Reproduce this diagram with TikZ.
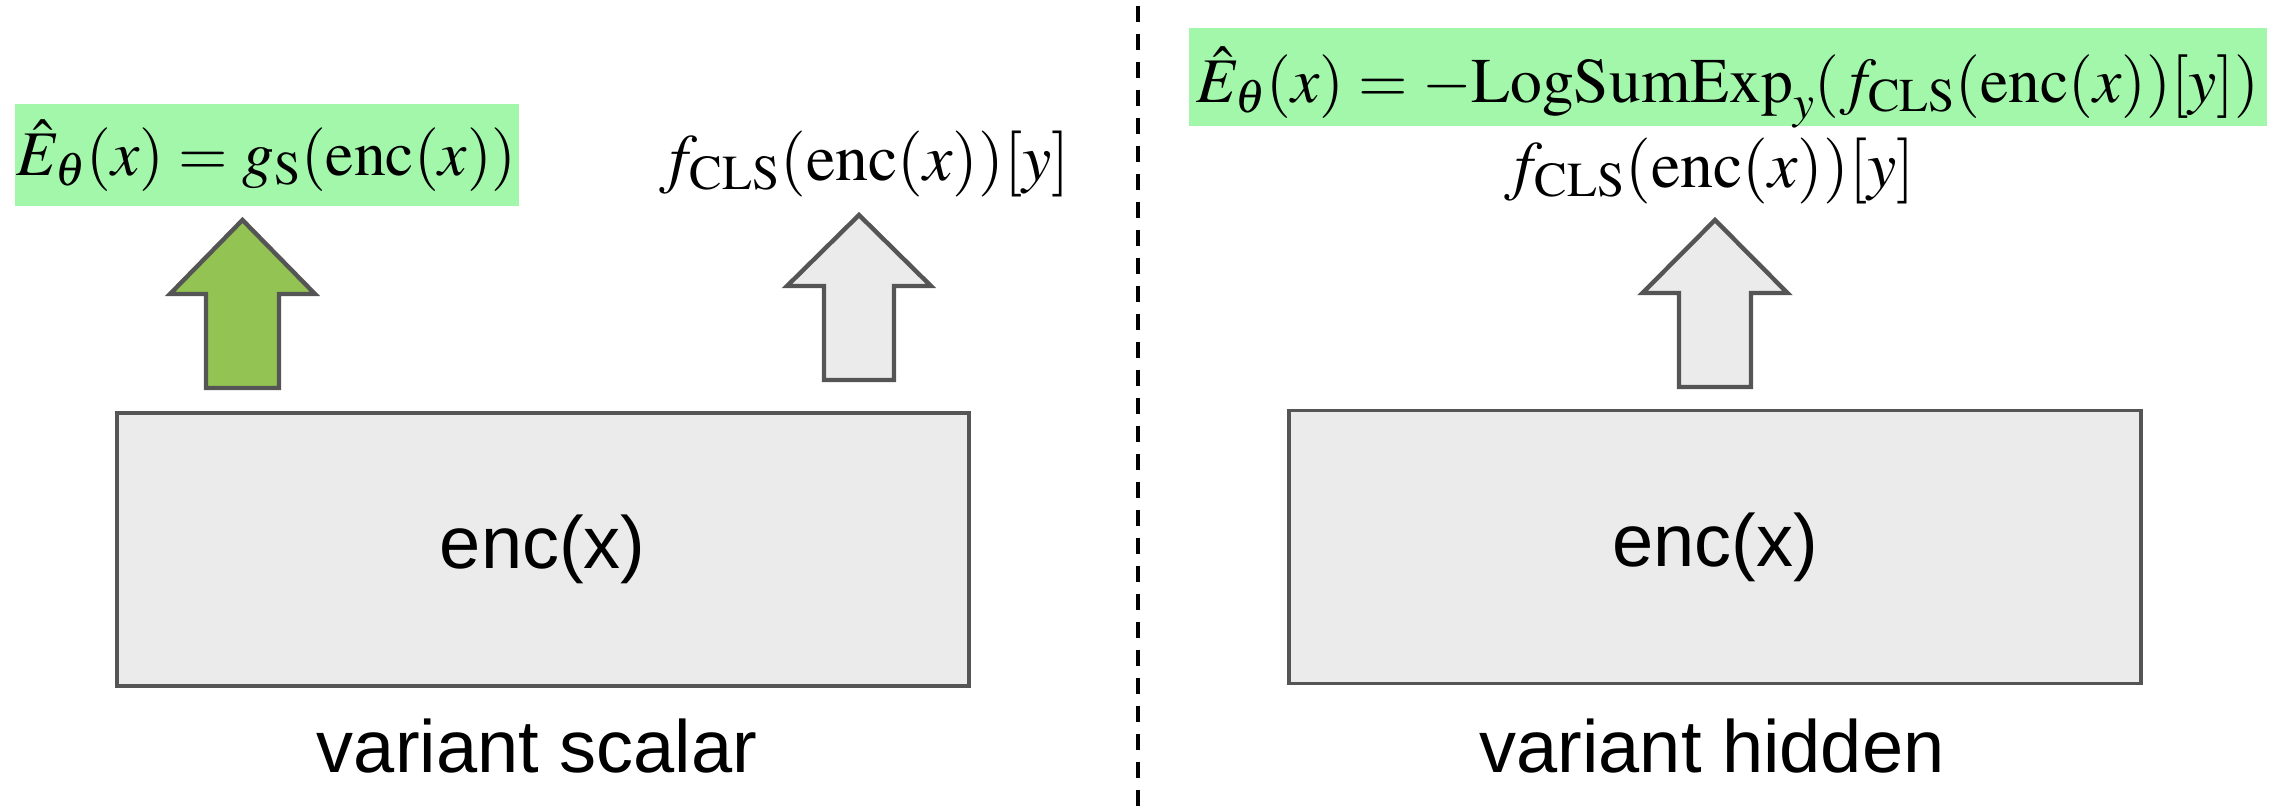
\documentclass[tikz,border=0pt]{standalone}
\usepackage{mathptmx}
\usepackage[no-math]{fontspec}
\newfontfamily\arialfont{Liberation Sans}
\definecolor{hlgreen}{HTML}{A3F7AB}
\definecolor{argreen}{HTML}{93C353}
\definecolor{boxgray}{HTML}{EBEBEC}
\definecolor{edgegray}{HTML}{555555}
\tikzset{
  encbox/.style={draw=edgegray, line width=1.75pt, fill=boxgray, minimum width=426pt, minimum height=136.5pt, font=\arialfont\fontsize{37}{44}\selectfont},
  caption/.style={anchor=base, font=\arialfont\fontsize{37}{44}\selectfont},
  mathlbl/.style={anchor=base, inner sep=0pt, font=\fontsize{33}{40}\selectfont},
  hlbox/.style={fill=hlgreen, inner xsep=0pt, inner ysep=0pt, anchor=base, font=\fontsize{31.8}{38}\selectfont},
  blockarrow/.style={draw=edgegray, line width=2.2pt, line join=miter},
  divider/.style={line width=2pt, dash pattern=on 8pt off 6pt}
}
\begin{document}
\begin{tikzpicture}[x=0.5pt,y=-0.5pt]
\useasboundingbox (0,0) rectangle (2284,810);
% divider
\coordinate (dtop) at (1138,6);
\coordinate (dbot) at (1138,810);
\draw[divider] (dtop) -- (dbot);
% encoder boxes
\node[encbox] (encL) at (542.75,549.5) {enc(x)};
\node[encbox] (encR) at (1715,547) {enc(x)};
% captions
\node[caption] (capL) at (537,772) {variant scalar};
\node[caption] (capR) at (1712,772) {variant hidden};
% left labels
\node[hlbox, minimum width=252.2pt, text height=35.5pt, text depth=15.5pt] (EL) at (266.8,175) {$\hat{E}_\theta(x) = g_{\mathrm{S}}(\mathrm{enc}(x))$};
\node[mathlbl] (fL) at (865,180) {$f_{\mathrm{CLS}}(\mathrm{enc}(x))[y]$};
% right labels
\node[hlbox, minimum width=539pt, text height=37pt, text depth=12pt] (ER) at (1728,102) {$\hat{E}_\theta(x) = -\mathrm{LogSumExp}_y(f_{\mathrm{CLS}}(\mathrm{enc}(x))[y])$};
\node[mathlbl] (fR) at (1710,187) {$f_{\mathrm{CLS}}(\mathrm{enc}(x))[y]$};
% block arrows
\draw[blockarrow, fill=argreen] (242.5,220) -- (315,294) -- (279,294) -- (279,388) -- (206,388) -- (206,294) -- (170,294) -- cycle;
\draw[blockarrow, fill=boxgray] (859,215) -- (931,286) -- (894,286) -- (894,380) -- (824,380) -- (824,286) -- (787,286) -- cycle;
\draw[blockarrow, fill=boxgray] (1715,220) -- (1787.5,293) -- (1751,293) -- (1751,387) -- (1679,387) -- (1679,293) -- (1642.5,293) -- cycle;
\end{tikzpicture}
\end{document}
